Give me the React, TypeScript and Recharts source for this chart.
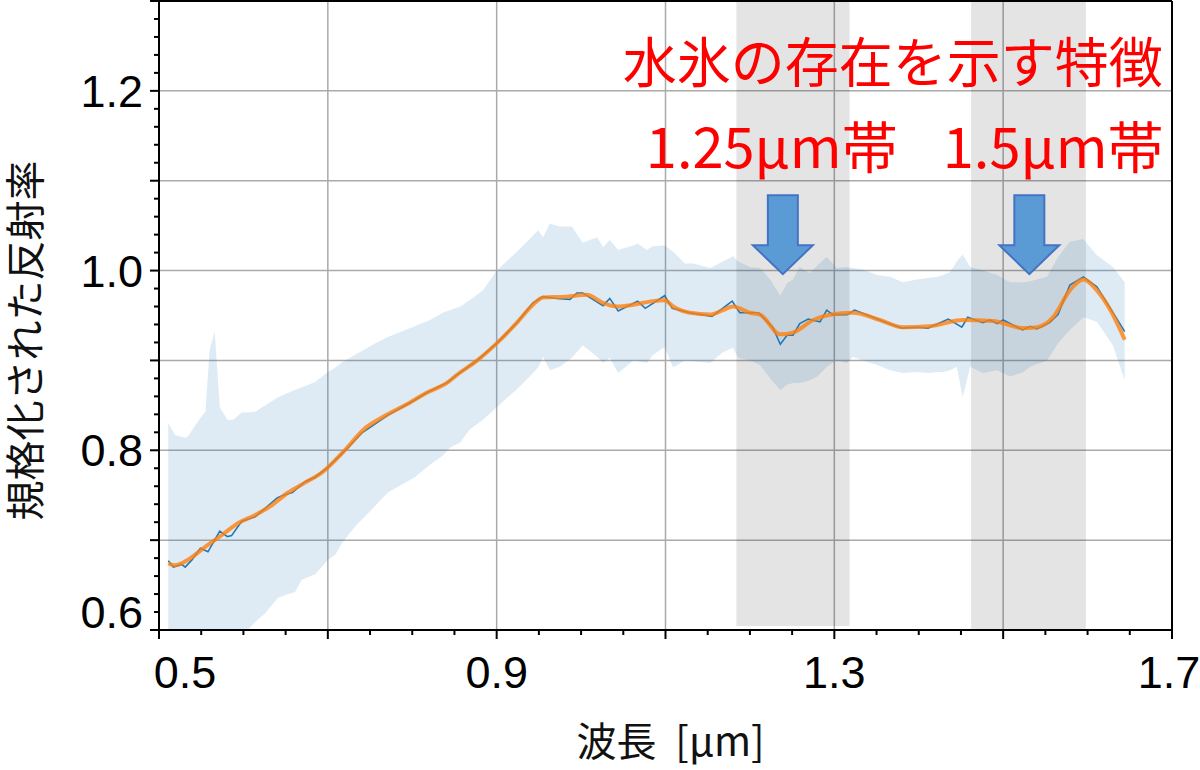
import React from 'react';
import {
  ComposedChart,
  XAxis,
  YAxis,
  Area,
  Line,
  ReferenceArea,
  ReferenceLine,
  ReferenceDot,
  CartesianGrid,
} from 'recharts';

// ---- data (wavelength in µm, normalized reflectance) ----
const bandWavelength = [
  0.511, 0.519, 0.531, 0.534, 0.549, 0.555, 0.560, 0.566, 0.572, 0.581,
  0.588, 0.598, 0.605, 0.614, 0.626, 0.641, 0.653, 0.661, 0.669, 0.685,
  0.700, 0.709, 0.717, 0.732, 0.752, 0.771, 0.803, 0.821, 0.836, 0.845,
  0.857, 0.868, 0.884, 0.900, 0.924, 0.940, 0.949, 0.955, 0.963, 0.975,
  0.989, 1.002, 1.019, 1.026, 1.034, 1.044, 1.062, 1.067, 1.078, 1.085,
  1.099, 1.109, 1.123, 1.133, 1.153, 1.168, 1.180, 1.186, 1.200, 1.212,
  1.224, 1.236, 1.244, 1.251, 1.259, 1.271, 1.280, 1.291, 1.303, 1.315,
  1.322, 1.334, 1.351, 1.366, 1.381, 1.398, 1.413, 1.422, 1.429, 1.437,
  1.445, 1.452, 1.461, 1.476, 1.493, 1.508, 1.524, 1.532, 1.552, 1.565,
  1.579, 1.595, 1.611, 1.630, 1.644,
];
const bandUpper = [
  0.830, 0.817, 0.814, 0.815, 0.836, 0.843, 0.912, 0.932, 0.848, 0.834,
  0.834, 0.842, 0.842, 0.843, 0.850, 0.859, 0.864, 0.867, 0.870, 0.876,
  0.887, 0.892, 0.898, 0.906, 0.917, 0.926, 0.938, 0.945, 0.953, 0.956,
  0.960, 0.967, 0.978, 1.000, 1.021, 1.036, 1.045, 1.037, 1.052, 1.049,
  1.049, 1.031, 1.037, 1.026, 1.034, 1.023, 1.028, 1.030, 1.023, 1.027,
  1.028, 1.021, 1.008, 1.008, 1.003, 1.010, 1.016, 1.010, 1.004, 1.003,
  0.990, 0.972, 0.986, 0.990, 1.004, 0.997, 1.006, 1.015, 1.003, 1.004,
  1.003, 1.001, 0.995, 0.993, 0.987, 0.990, 0.992, 0.993, 0.995, 0.998,
  1.010, 1.018, 1.004, 1.000, 0.995, 0.987, 0.987, 0.988, 0.993, 1.015,
  1.032, 1.035, 1.017, 1.004, 0.987,
];
const bandLower = [
  0.578, 0.578, 0.578, 0.578, 0.578, 0.578, 0.578, 0.578, 0.578, 0.578,
  0.583, 0.589, 0.600, 0.609, 0.619, 0.636, 0.640, 0.642, 0.656, 0.662,
  0.678, 0.684, 0.697, 0.715, 0.734, 0.753, 0.770, 0.784, 0.794, 0.803,
  0.809, 0.823, 0.834, 0.848, 0.868, 0.883, 0.892, 0.904, 0.889, 0.893,
  0.903, 0.917, 0.904, 0.897, 0.903, 0.886, 0.900, 0.899, 0.897, 0.906,
  0.915, 0.892, 0.900, 0.899, 0.897, 0.909, 0.914, 0.903, 0.900, 0.895,
  0.880, 0.867, 0.873, 0.875, 0.875, 0.878, 0.882, 0.893, 0.900, 0.897,
  0.904, 0.900, 0.895, 0.889, 0.886, 0.887, 0.886, 0.887, 0.887, 0.889,
  0.893, 0.859, 0.893, 0.886, 0.889, 0.882, 0.887, 0.893, 0.900, 0.919,
  0.934, 0.948, 0.943, 0.917, 0.878,
];

const rawWavelength = [
  0.511, 0.517, 0.527, 0.531, 0.539, 0.549, 0.558, 0.572, 0.581, 0.586,
  0.598, 0.608, 0.614, 0.640, 0.647, 0.658, 0.673, 0.685, 0.700, 0.724,
  0.740, 0.771, 0.803, 0.817, 0.841, 0.853, 0.877, 0.900, 0.924, 0.943,
  0.955, 0.971, 0.987, 0.995, 1.002, 1.026, 1.034, 1.044, 1.067, 1.076,
  1.099, 1.108, 1.129, 1.155, 1.179, 1.188, 1.210, 1.227, 1.236, 1.244,
  1.251, 1.259, 1.269, 1.283, 1.291, 1.298, 1.315, 1.324, 1.346, 1.362,
  1.380, 1.398, 1.411, 1.435, 1.451, 1.458, 1.476, 1.484, 1.493, 1.500,
  1.523, 1.532, 1.540, 1.555, 1.565, 1.579, 1.595, 1.611, 1.623, 1.644,
];
const rawReflectance = [
  0.677, 0.670, 0.673, 0.670, 0.678, 0.691, 0.687, 0.710, 0.704, 0.705,
  0.721, 0.724, 0.726, 0.747, 0.750, 0.753, 0.765, 0.770, 0.781, 0.803,
  0.819, 0.839, 0.856, 0.864, 0.875, 0.884, 0.900, 0.919, 0.942, 0.964,
  0.971, 0.969, 0.968, 0.975, 0.975, 0.961, 0.969, 0.955, 0.966, 0.958,
  0.972, 0.958, 0.953, 0.949, 0.966, 0.953, 0.953, 0.937, 0.918, 0.928,
  0.928, 0.941, 0.946, 0.943, 0.956, 0.951, 0.951, 0.956, 0.948, 0.942,
  0.936, 0.937, 0.936, 0.946, 0.937, 0.948, 0.942, 0.945, 0.941, 0.945,
  0.934, 0.938, 0.935, 0.942, 0.951, 0.984, 0.993, 0.982, 0.964, 0.932,
];

const smoothWavelength = [
  0.511, 0.519, 0.534, 0.554, 0.575, 0.594, 0.614, 0.634, 0.653, 0.673,
  0.694, 0.717, 0.746, 0.765, 0.797, 0.817, 0.841, 0.853, 0.877, 0.900,
  0.924, 0.943, 0.955, 0.983, 1.007, 1.026, 1.043, 1.062, 1.085, 1.099,
  1.109, 1.129, 1.153, 1.168, 1.180, 1.200, 1.212, 1.236, 1.251, 1.275,
  1.303, 1.322, 1.354, 1.381, 1.413, 1.452, 1.488, 1.523, 1.540, 1.559,
  1.579, 1.595, 1.611, 1.627, 1.644,
];
const smoothReflectance = [
  0.674, 0.672, 0.678, 0.692, 0.706, 0.719, 0.728, 0.739, 0.753, 0.764,
  0.776, 0.797, 0.826, 0.837, 0.853, 0.864, 0.875, 0.884, 0.900, 0.919,
  0.942, 0.962, 0.970, 0.971, 0.973, 0.964, 0.960, 0.962, 0.966, 0.967,
  0.960, 0.953, 0.951, 0.956, 0.960, 0.953, 0.951, 0.929, 0.931, 0.945,
  0.952, 0.953, 0.945, 0.937, 0.938, 0.945, 0.944, 0.936, 0.937, 0.948,
  0.978, 0.990, 0.978, 0.956, 0.923,
];

// ---- axes / ticks ----
const xTicks = [
  0.5, 0.55, 0.6, 0.65, 0.7, 0.75, 0.8, 0.85, 0.9, 0.95, 1.0, 1.05, 1.1,
  1.15, 1.2, 1.25, 1.3, 1.35, 1.4, 1.45, 1.5, 1.55, 1.6, 1.65, 1.7,
];
const xMajorTicks = [0.5, 0.7, 0.9, 1.1, 1.3, 1.5, 1.7];
const xTickLabels = [0.5, 0.9, 1.3, 1.7];
const yTicks = [
  0.6, 0.62, 0.64, 0.66, 0.68, 0.7, 0.72, 0.74, 0.76, 0.78, 0.8, 0.82, 0.84,
  0.86, 0.88, 0.9, 0.92, 0.94, 0.96, 0.98, 1.0, 1.02, 1.04, 1.06, 1.08, 1.1,
  1.12, 1.14, 1.16, 1.18, 1.2, 1.22, 1.24, 1.26, 1.28, 1.3,
];
const yMajorTicks = [0.6, 0.7, 0.8, 0.9, 1.0, 1.1, 1.2, 1.3];
const yTickLabels = [0.6, 0.8, 1.0, 1.2];
const xGridValues = [0.7, 0.9, 1.1, 1.3, 1.5];
const yGridValues = [0.7, 0.8, 0.9, 1.0, 1.1, 1.2];

// ice absorption bands (µm) and arrow tips
const iceBandFrom = [1.184, 1.462];
const iceBandTo = [1.318, 1.598];
const iceBandBottom = [0.6045, 0.6];
const arrowWavelength = [1.239, 1.531];
const arrowReflectance = [0.996, 0.996];

const titleText = '水氷の存在を示す特徴';
const bandLabels = ['1.25μm帯', '1.5μm帯'];
const bandLabelWavelength = [1.375, 1.69];
const bandLabelReflectance = [1.137, 1.137];
const titlePos = { w: 1.689, r: 1.23 };

const xLabelMain = '波長';
const xLabelUnit = '[μm]';
const yLabel = '規格化された反射率';

// ---- tables built from arrays ----
const bandData = bandWavelength.map((w, i) => ({ w, range: [bandLower[i], bandUpper[i]] }));
const rawData = rawWavelength.map((w, i) => ({ w, r: rawReflectance[i] }));
const smoothData = smoothWavelength.map((w, i) => ({ w, s: smoothReflectance[i] }));

const near = (a: number, b: number) => Math.abs(a - b) < 1e-6;
const TICK_FONT = "'Liberation Sans', Arial, sans-serif";
const JP_FONT = "'Noto Sans CJK JP', 'Noto Sans', sans-serif";

const YTick = (props: any) => {
  const { x, y, payload } = props;
  const v = payload.value as number;
  const major = yMajorTicks.some((t) => near(t, v));
  const labeled = yTickLabels.some((t) => near(t, v));
  const dy = near(v, 0.6) ? -18 : 0;
  return (
    <g>
      <line x1={x - (major ? 9 : 5)} x2={x} y1={y} y2={y} stroke="#000" strokeWidth={2} />
      {labeled && (
        <text x={x - 16} y={y + dy + 16} textAnchor="end" fontSize={45} fontFamily={TICK_FONT} fill="#000">
          {v.toFixed(1)}
        </text>
      )}
    </g>
  );
};

const XTick = (props: any) => {
  const { x, y, payload } = props;
  const v = payload.value as number;
  const major = xMajorTicks.some((t) => near(t, v));
  const labeled = xTickLabels.some((t) => near(t, v));
  const dx = near(v, 0.5) ? 26 : near(v, 1.7) ? -3 : 0;
  return (
    <g>
      <line x1={x} x2={x} y1={y} y2={y + (major ? 9 : 5)} stroke="#000" strokeWidth={2} />
      {labeled && (
        <text x={x + dx} y={y + 58} textAnchor="middle" fontSize={45} fontFamily={TICK_FONT} fill="#000">
          {v.toFixed(1)}
        </text>
      )}
    </g>
  );
};

const ArrowShape = (props: any) => {
  const { cx, cy } = props;
  const pts = [
    [cx - 15, cy - 79],
    [cx + 15, cy - 79],
    [cx + 15, cy - 29],
    [cx + 30, cy - 29],
    [cx, cy],
    [cx - 30, cy - 29],
    [cx - 15, cy - 29],
  ]
    .map((p) => p.join(','))
    .join(' ');
  return <polygon points={pts} fill="#5b9bd5" stroke="#4472c4" strokeWidth={2} />;
};

const makeTextShape = (text: string, size: number) => (props: any) => (
  <text
    x={props.cx}
    y={props.cy + size * 0.36}
    textAnchor="end"
    fontSize={size}
    fontFamily={JP_FONT}
    fill="#ff0000"
  >
    {text}
  </text>
);

const XAxisLabel = (props: any) => {
  const vb = props.viewBox ?? { x: 159, y: 630, width: 1013, height: 60 };
  return (
    <text
      x={vb.x + vb.width / 2 + 5}
      y={vb.y + 126}
      textAnchor="middle"
      fontSize={40}
      fontFamily={JP_FONT}
      fill="#111"
    >
      <tspan>{xLabelMain}</tspan>
      <tspan dx={10}>{' ' + xLabelUnit}</tspan>
    </text>
  );
};

const YAxisLabel = (props: any) => {
  const vb = props.viewBox ?? { x: 0, y: 1, width: 159, height: 629 };
  const cx = vb.x + 26;
  const cy = vb.y + vb.height / 2 + 25;
  return (
    <g transform={`translate(${cx}, ${cy}) rotate(-90)`}>
      <text x={0} y={14} textAnchor="middle" fontSize={40} fontFamily={JP_FONT} fill="#111">
        {yLabel}
      </text>
    </g>
  );
};

export default function App() {
  return (
    <div style={{ position: 'absolute', left: 0, top: 0, width: 1200, height: 770, background: '#fff' }}>
      <ComposedChart width={1200} height={770} margin={{ top: 1, right: 28, bottom: 80, left: 0 }}>
        {iceBandFrom.map((f, i) => (
          <ReferenceArea
            key={`band-${i}`}
            x1={f}
            x2={iceBandTo[i]}
            y1={iceBandBottom[i]}
            y2={1.3}
            fill="#000"
            fillOpacity={0.105}
            stroke="none"
            ifOverflow="visible"
          />
        ))}
        <CartesianGrid
          stroke="#aaaaaa"
          strokeWidth={1.5}
          horizontalValues={yGridValues}
          verticalValues={xGridValues}
        />
        <XAxis
          type="number"
          dataKey="w"
          domain={[0.5, 1.7]}
          allowDataOverflow
          ticks={xTicks}
          interval={0}
          height={60}
          tickSize={0}
          tickMargin={0}
          tickLine={false}
          axisLine={{ stroke: '#000', strokeWidth: 2 }}
          tick={(p: any) => <XTick {...p} />}
          label={(p: any) => <XAxisLabel {...p} />}
        />
        <YAxis
          type="number"
          domain={[0.6, 1.3]}
          allowDataOverflow
          ticks={yTicks}
          interval={0}
          width={159}
          tickSize={0}
          tickMargin={0}
          tickLine={false}
          axisLine={{ stroke: '#000', strokeWidth: 2 }}
          tick={(p: any) => <YTick {...p} />}
          label={(p: any) => <YAxisLabel {...p} />}
        />
        <Area
          data={bandData}
          dataKey="range"
          type="linear"
          stroke="none"
          fill="#1f77b4"
          fillOpacity={0.15}
          isAnimationActive={false}
          activeDot={false}
        />
        <Line
          data={rawData}
          dataKey="r"
          type="linear"
          stroke="#1f77b4"
          strokeWidth={1.6}
          dot={false}
          activeDot={false}
          isAnimationActive={false}
        />
        <Line
          data={smoothData}
          dataKey="s"
          type="monotone"
          stroke="#ff7f0e"
          strokeOpacity={0.8}
          strokeWidth={4}
          dot={false}
          activeDot={false}
          isAnimationActive={false}
        />
        <ReferenceLine y={1.3} stroke="#000" strokeWidth={2} ifOverflow="visible" />
        <ReferenceLine x={1.7} stroke="#000" strokeWidth={2} ifOverflow="visible" />
        {arrowWavelength.map((w, i) => (
          <ReferenceDot
            key={`arrow-${i}`}
            x={w}
            y={arrowReflectance[i]}
            r={1}
            ifOverflow="visible"
            shape={(p: any) => <ArrowShape {...p} />}
          />
        ))}
        <ReferenceDot
          x={titlePos.w}
          y={titlePos.r}
          r={1}
          ifOverflow="visible"
          shape={makeTextShape(titleText, 54)}
        />
        {bandLabels.map((t, i) => (
          <ReferenceDot
            key={`bl-${i}`}
            x={bandLabelWavelength[i]}
            y={bandLabelReflectance[i]}
            r={1}
            ifOverflow="visible"
            shape={makeTextShape(t, 56)}
          />
        ))}
      </ComposedChart>
    </div>
  );
}
